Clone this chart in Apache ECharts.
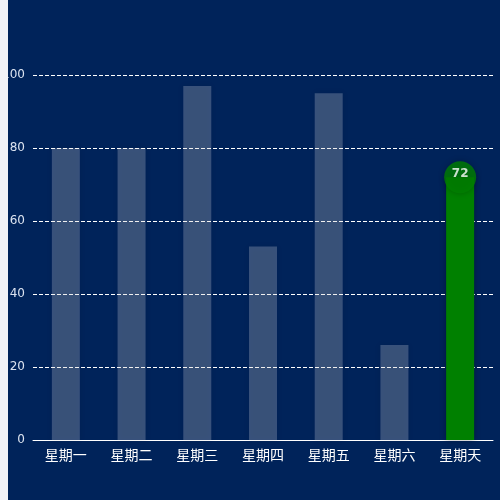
<!DOCTYPE html>
<html><head><meta charset="utf-8">
<script src="https://cdn.jsdelivr.net/npm/echarts@6/dist/echarts.min.js"></script>
<style>
html,body{margin:0;padding:0;background:#f2f3f8;width:500px;height:500px;overflow:hidden;}
#c{position:absolute;left:8px;top:0;width:492px;height:500px;background:#00235a;}
</style></head>
<body><div id="c"></div>
<script>
const categories = ['星期一','星期二','星期三','星期四','星期五','星期六','星期天'];
const values = [80, 80, 97, 53, 95, 26, 72];
const highlightIndex = 6;
const yTicks = {min: 0, max: 100, interval: 20};

const chart = echarts.init(document.getElementById('c'));
const barData = values.map((v, i) => i === highlightIndex
  ? {value: v, itemStyle: {color: '#008000'}}
  : v);
const dotData = values.map((v, i) => i === highlightIndex ? v : '-');
chart.setOption({
  backgroundColor: '#00235a',
  animation: false,
  textStyle: {fontFamily: '"Noto Sans CJK SC", "DejaVu Sans", sans-serif'},
  grid: {left: 25, top: 75, width: 460, height: 365, containLabel: false, outerBoundsMode: 'none'},
  xAxis: {
    type: 'category', data: categories,
    axisLine: {lineStyle: {color: '#ffffff'}},
    axisTick: {show: false},
    axisLabel: {color: '#ffffff', fontSize: 14, margin: 8}
  },
  yAxis: {
    type: 'value', min: yTicks.min, max: yTicks.max, interval: yTicks.interval,
    axisLine: {show: false}, axisTick: {show: false},
    axisLabel: {color: '#dbe3f0', fontSize: 12, fontFamily: '"DejaVu Sans", sans-serif', margin: 8},
    splitLine: {lineStyle: {color: '#ffffff', type: 'dashed'}}
  },
  series: [{
    type: 'bar', data: barData, barWidth: 28,
    itemStyle: {color: 'rgba(255,255,255,0.22)', shadowColor: 'rgba(0,0,0,0.35)', shadowBlur: 6}
  }, {
    type: 'scatter', data: dotData, symbol: 'circle', symbolSize: 32,
    itemStyle: {color: '#008000', shadowColor: 'rgba(0,0,0,0.3)', shadowBlur: 6},
    label: {show: true, position: 'inside', color: '#ffffff', fontWeight: 'bold', fontSize: 12, fontFamily: '"DejaVu Sans", sans-serif', offset: [0, -3]},
    z: 3
  }]
});
</script></body></html>
